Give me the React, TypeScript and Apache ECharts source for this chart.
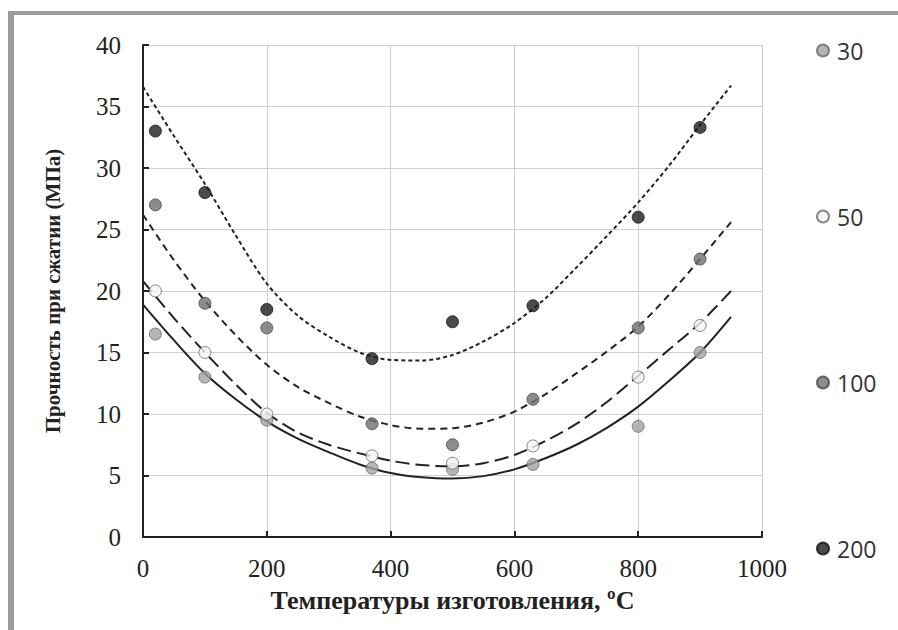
import React, { useEffect, useRef } from "react";
import * as echarts from "echarts";

// measured points
const temperatures = [20, 100, 200, 370, 500, 630, 800, 900];
const seriesNames = ["30", "50", "100", "200"];
const values30 = [16.5, 13, 9.5, 5.6, 5.5, 5.9, 9, 15];
const values50 = [20, 15, 10, 6.6, 6.0, 7.4, 13, 17.2];
const values100 = [27, 19, 17, 9.2, 7.5, 11.2, 17, 22.6];
const values200 = [33, 28, 18.5, 14.5, 17.5, 18.8, 26, 33.3];

// trend curves
const trendX = [0, 50, 100, 150, 200, 250, 300, 350, 400, 450, 500, 550, 600, 650, 700, 750, 800, 850, 900, 950];
const trend30 = [18.9, 16.0, 13.3, 11.2, 9.4, 8.0, 6.9, 5.9, 5.2, 4.85, 4.75, 4.95, 5.5, 6.4, 7.5, 8.9, 10.6, 12.7, 15.0, 17.9];
const trend50 = [20.8, 17.8, 15.0, 12.4, 10.1, 8.5, 7.5, 6.8, 6.2, 5.85, 5.75, 6.0, 6.67, 7.8, 9.2, 11.0, 13.1, 15.25, 17.4, 20.0];
const trend100 = [26.2, 22.5, 19.2, 16.4, 14.0, 12.2, 10.9, 9.8, 9.1, 8.8, 8.85, 9.3, 10.2, 11.6, 13.3, 15.1, 17.1, 19.7, 22.6, 25.6];
const trend200 = [36.6, 32.6, 28.7, 24.5, 20.6, 18.0, 16.3, 15.0, 14.4, 14.35, 14.8, 15.9, 17.4, 19.4, 21.9, 24.5, 27.2, 30.2, 33.5, 36.7];

const xTicks = [0, 200, 400, 600, 800, 1000];
const yTicks = [0, 5, 10, 15, 20, 25, 30, 35, 40];

const allValues = [values30, values50, values100, values200];
const allTrends = [trend30, trend50, trend100, trend200];
const fills = ["#a3a3a3", "#f4f4f4", "#6f6f6f", "#1e1e1e"];
const borders = ["#6a6a6a", "#6a6a6a", "#4a4a4a", "#111111"];
const dashes: any[] = ["solid", [14, 6], [7, 5], [4, 3]];

export default function App() {
  const ref = useRef<HTMLDivElement>(null);
  useEffect(() => {
    document.body.style.margin = "0";
    if (!ref.current) return;
    const chart = echarts.init(ref.current, null, { renderer: "svg" });
    const series: any[] = [];
    allTrends.forEach((tr, i) => {
      series.push({
        type: "line",
        name: "trend" + seriesNames[i],
        data: trendX.map((x, j) => [x, tr[j]]),
        showSymbol: false,
        symbol: "none",
        smooth: 0.3,
        z: 1,
        lineStyle: { color: "#222", width: 2, type: dashes[i] },
        silent: true,
      });
    });
    allValues.forEach((vals, i) => {
      series.push({
        type: "scatter",
        name: seriesNames[i],
        data: temperatures.map((t, j) => [t, vals[j]]),
        symbolSize: 12,
        z: 3,
        itemStyle: { color: fills[i], borderColor: borders[i], borderWidth: 1 },
      });
    });
    const serif = "'Liberation Serif', 'Times New Roman', serif";
    chart.setOption({
      animation: false,
      backgroundColor: "#ffffff",
      grid: { left: 143, right: 136, top: 45, bottom: 93 },
      legend: {
        data: seriesNames,
        orient: "vertical",
        left: 811,
        top: 34,
        itemWidth: 12,
        itemHeight: 12,
        itemGap: 143,
        icon: "circle",
        textStyle: { fontFamily: "'Open Sans', sans-serif", fontSize: 23, color: "#333", lineHeight: 18, padding: [0, 0, 0, 3] },
      },
      xAxis: {
        type: "value",
        min: xTicks[0],
        max: xTicks[xTicks.length - 1],
        interval: 200,
        name: "Температуры изготовления, ºC",
        nameLocation: "middle",
        nameGap: 50,
        nameTextStyle: { fontFamily: serif, fontWeight: "bold", fontSize: 26, color: "#222" },
        axisLine: { lineStyle: { color: "#222", width: 2 } },
        axisTick: { inside: true, length: 6, lineStyle: { color: "#222", width: 2 } },
        axisLabel: { fontFamily: serif, fontSize: 25, color: "#222", margin: 19, formatter: (v: number) => String(v) },
        splitLine: { show: true, lineStyle: { color: "#cfcfcf", width: 1 } },
      },
      yAxis: {
        type: "value",
        min: yTicks[0],
        max: yTicks[yTicks.length - 1],
        interval: 5,
        name: "Прочность при сжатии (МПа)",
        nameLocation: "middle",
        nameGap: 80,
        nameTextStyle: { fontFamily: serif, fontWeight: "bold", fontSize: 21, color: "#222" },
        axisLine: { show: true, lineStyle: { color: "#222", width: 2 } },
        axisTick: { show: true, inside: true, length: 6, lineStyle: { color: "#222", width: 2 } },
        axisLabel: { fontFamily: serif, fontSize: 25, color: "#222", margin: 22, formatter: (v: number) => String(v) },
        splitLine: { show: true, lineStyle: { color: "#cfcfcf", width: 1 } },
      },
      graphic: [
        { type: "rect", shape: { x: 8, y: 11, width: 890, height: 4 }, style: { fill: "#9c9c9c" }, silent: true },
        { type: "rect", shape: { x: 8, y: 11, width: 6, height: 619 }, style: { fill: "#9c9c9c" }, silent: true },
      ],
      series,
    });
    return () => chart.dispose();
  }, []);
  return <div ref={ref} style={{ width: 898, height: 630 }} />;
}
